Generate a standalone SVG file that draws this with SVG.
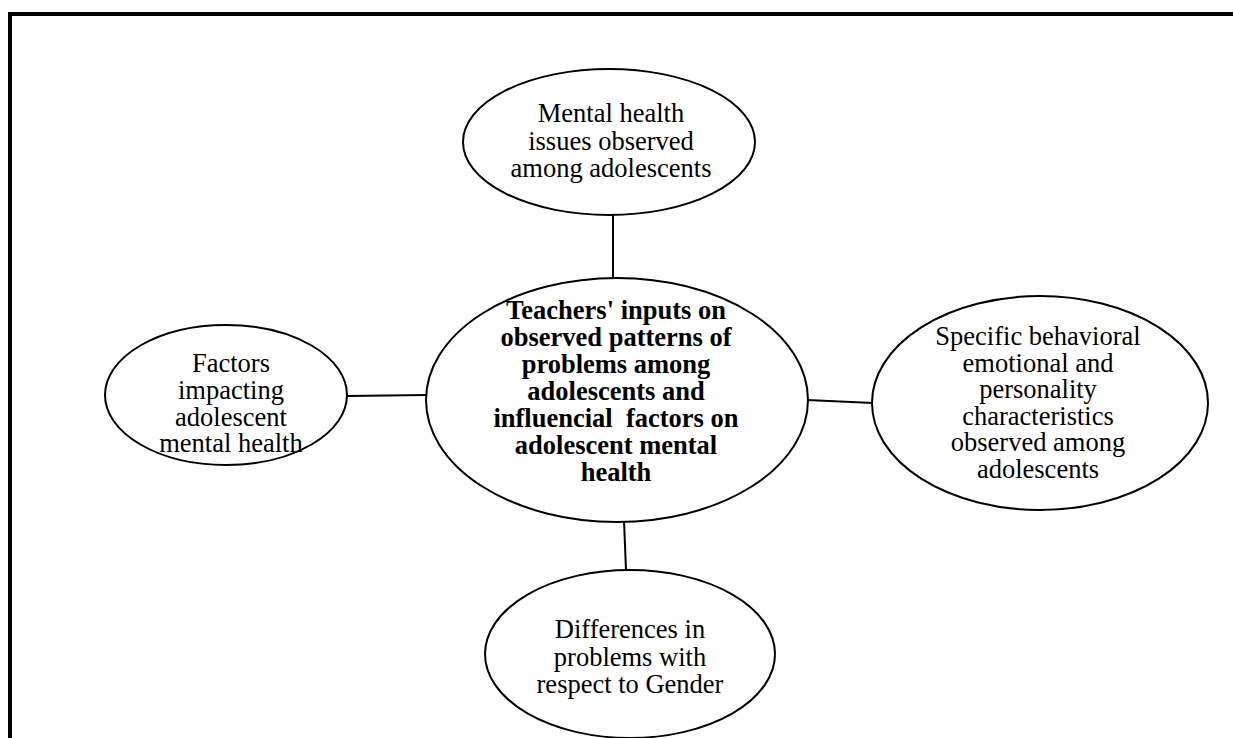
<svg xmlns="http://www.w3.org/2000/svg" width="1233" height="738" viewBox="0 0 1233 738">
<style>
.node ellipse{fill:#fff;stroke:#000;stroke-width:2}
.conn line{stroke:#000;stroke-width:2}
text{font-family:"Liberation Serif","Times New Roman",serif;font-size:26.5px;text-anchor:middle;fill:#000}
.b{font-weight:bold}
</style>
<rect x="0" y="0" width="1233" height="738" fill="#fff"/>
<rect x="10" y="14" width="1240" height="740" fill="none" stroke="#000" stroke-width="4"/>
<g id="connectors" class="conn">
<line x1="613" y1="215" x2="613" y2="279"/>
<line x1="347" y1="396" x2="427" y2="395"/>
<line x1="807" y1="400" x2="873" y2="403"/>
<line x1="624" y1="521" x2="626" y2="570"/>
</g>
<g id="center" class="node">
<ellipse cx="617" cy="400" rx="191" ry="122"/>
<text class="b" x="616" y="319">Teachers' inputs on</text>
<text class="b" x="616" y="346">observed patterns of</text>
<text class="b" x="616" y="373">problems among</text>
<text class="b" x="616" y="400">adolescents and</text>
<text class="b" x="616" y="427" xml:space="preserve">influencial  factors on</text>
<text class="b" x="616" y="454">adolescent mental</text>
<text class="b" x="616" y="481">health</text>
</g>
<g id="top" class="node">
<ellipse cx="609" cy="142" rx="146" ry="73"/>
<text x="611" y="122">Mental health</text>
<text x="611" y="149.5">issues observed</text>
<text x="611" y="177">among adolescents</text>
</g>
<g id="left" class="node">
<ellipse cx="226" cy="395" rx="121" ry="70"/>
<text x="231" y="372">Factors</text>
<text x="231" y="399">impacting</text>
<text x="231" y="426">adolescent</text>
<text x="231" y="452">mental health</text>
</g>
<g id="right" class="node">
<ellipse cx="1040" cy="403" rx="168" ry="107"/>
<text x="1038" y="345">Specific behavioral</text>
<text x="1038" y="371.5">emotional and</text>
<text x="1038" y="398">personality</text>
<text x="1038" y="424.5">characteristics</text>
<text x="1038" y="451">observed among</text>
<text x="1038" y="477.5">adolescents</text>
</g>
<g id="bottom" class="node">
<ellipse cx="630" cy="654" rx="145" ry="84"/>
<text x="630" y="638">Differences in</text>
<text x="630" y="665.5">problems with</text>
<text x="630" y="693">respect to Gender</text>
</g>
</svg>
